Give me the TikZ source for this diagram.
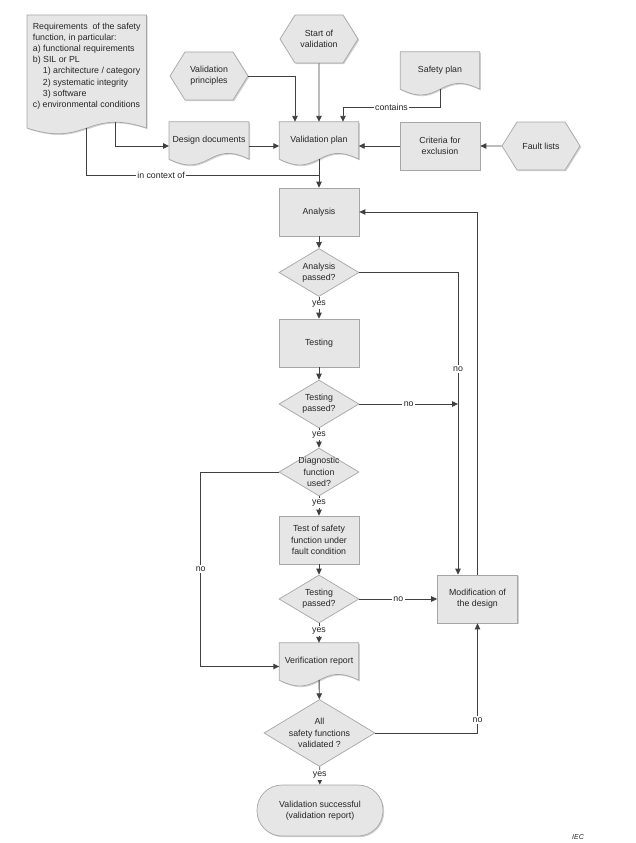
\documentclass[tikz,border=0pt]{standalone}
\usepackage{fontspec}
\setmainfont{Liberation Sans}
\usetikzlibrary{shapes.geometric,shapes.symbols,arrows.meta,shadows,backgrounds}
\definecolor{boxfill}{HTML}{E6E6E6}
\definecolor{boxline}{HTML}{A6A6A6}
\definecolor{flowline}{HTML}{404040}

\begin{document}
\begin{tikzpicture}[x=1pt, y=-1pt,
	font=\fontsize{8.8}{11.2}\selectfont, text=black!85,
	boxshadow/.style={drop shadow={shadow xshift=1.2pt, shadow yshift=-1.2pt, fill=black!35, opacity=0.5}},
	box/.style={rectangle, minimum width=80pt, minimum height=48pt, align=center,
		draw=boxline, line width=0.7pt, fill=boxfill, boxshadow},
	hexa/.style={signal, signal to=east and west, signal pointer angle=116,
		minimum width=78pt, minimum height=48pt, align=center,
		draw=boxline, line width=0.7pt, fill=boxfill, boxshadow},
	decision/.style={diamond, aspect=1.67, inner xsep=0pt, inner ysep=-4pt,
		minimum width=80pt, minimum height=48pt, align=center,
		draw=boxline, line width=0.7pt, fill=boxfill},
	docbox/.style={rectangle, minimum width=79pt, minimum height=37pt, align=center},
	docline/.style={draw=boxline, line width=0.7pt, fill=boxfill, boxshadow},
	term/.style={rectangle, rounded corners=25pt, minimum width=126pt, minimum height=51pt,
		align=center, draw=boxline, line width=0.7pt, fill=boxfill, boxshadow},
	flow/.style={draw=flowline, line width=0.9pt, -{Triangle[length=6pt, width=5.5pt]}},
	conn/.style={draw=flowline, line width=0.9pt},
	lbl/.style={fill=white, inner sep=1.5pt}]
	\useasboundingbox (0,0) rectangle (635,843);
	\node[docbox, anchor=north west, align=left, minimum width=119pt, minimum height=0pt, inner ysep=7.5pt] (req) at (27,15)
		{Requirements\ \ of the safety\\function, in particular:\\a) functional requirements\\b) SIL or PL\\
		\hspace*{10pt}1) architecture / category\\\hspace*{10pt}2) systematic integrity\\\hspace*{10pt}3) software\\c) environmental conditions};
	\node[docbox] (dd) at (209,140.5) {Design documents};
	\node[docbox] (vplan) at (319,140.5) {Validation plan};
	\node[docbox] (sp) at (440,70.5) {Safety plan};
	\node[docbox] (vr) at (319,661.5) {Verification report};
	\node[hexa] (start) at (319,39) {Start of\\validation};
	\node[hexa] (valprin) at (209,76) {Validation\\principles};
	\node[hexa] (fault) at (541,146) {Fault lists};
	\node[box] (crit) at (440,146) {Criteria for\\exclusion};
	\node[box] (ana) at (319,212) {Analysis};
	\node[decision] (anaok) at (319,272.5) {Analysis\\passed?};
	\node[box] (test) at (319,343) {Testing};
	\node[decision] (testok) at (319,404) {Testing\\passed?};
	\node[decision] (diag) at (319,472) {Diagnostic\\function\\used?};
	\node[box] (tsf) at (319,540) {Test of safety\\function under\\fault condition};
	\node[decision] (tsfok) at (319,599) {Testing\\passed?};
	\node[box] (mod) at (477.5,599) {Modification of\\the design};
	\node[decision, minimum width=111pt, minimum height=67pt] (allok) at (319.5,733) {All\\safety functions\\validated ?};
	\node[term] (done) at (320,810.5) {Validation successful\\(validation report)};
	\node[font=\fontsize{7}{8}\selectfont\itshape] (iec) at (578,837) {IEC};
	\begin{scope}[on background layer]
		\foreach \n/\e in {req/11pt, dd/0pt, vplan/0pt, sp/0pt, vr/0pt}
			\path[docline] (\n.north west) -- (\n.north east) -- ([yshift=-\e]\n.south east)
				.. controls ([yshift=20pt-\e]\n.south) and ([yshift=-20pt-\e]\n.south) .. ([yshift=-\e]\n.south west) -- cycle;
	\end{scope}
	\coordinate (ctx) at (319,175);
	\coordinate (join) at ([xshift=-19.5pt]mod.north);
	\draw[flow] (start) -- (vplan);
	\draw[flow] (valprin.east) -| ([xshift=-24pt]vplan.north);
	\draw[flow] (sp.south) -- ++(0,18) -| node[lbl, pos=0.25] {contains} ([xshift=24pt]vplan.north);
	\draw[flow] (fault) -- (crit);
	\draw[flow] (crit) -- (vplan.east |- crit);
	\draw[flow] (dd.east |- crit) -- (vplan.west |- crit);
	\draw[flow] ([xshift=29pt, yshift=-5pt]req.south) |- (dd.west |- crit);
	\draw[conn] ([yshift=-11pt]req.south) |- node[lbl, pos=0.66] {in context of} (ctx);
	\draw[flow] (vplan) -- (ana);
	\draw[flow] (ana) -- (anaok);
	\draw[flow] (anaok) -- node[lbl, pos=0.35] {yes} (test);
	\draw[flow] (test) -- (testok);
	\draw[flow] (testok) -- node[lbl, pos=0.35] {yes} (diag);
	\draw[flow] (diag) -- node[lbl, pos=0.35] {yes} (tsf);
	\draw[flow] (tsf) -- (tsfok);
	\draw[flow] (tsfok) -- node[lbl, pos=0.38] {yes} (vr);
	\draw[flow] (vr) -- (allok);
	\draw[flow] (allok) -- node[lbl, pos=0.45] {yes} (done);
	\draw[flow] (anaok.east) -| node[lbl, pos=0.66] {no} (join);
	\draw[flow] (testok.east) -- node[lbl] {no} (testok.east -| join);
	\draw[flow] (tsfok.east) -- node[lbl] {no} (mod.west);
	\draw[flow] (mod.north) |- (ana.east);
	\draw[flow] (allok.east) -| node[lbl, pos=0.56] {no} (mod.south);
	\draw[flow] (diag.west) -- ++(-78,0) |- node[lbl, pos=0.25] {no} ([yshift=-5pt]vr.west);
\end{tikzpicture}
\end{document}
